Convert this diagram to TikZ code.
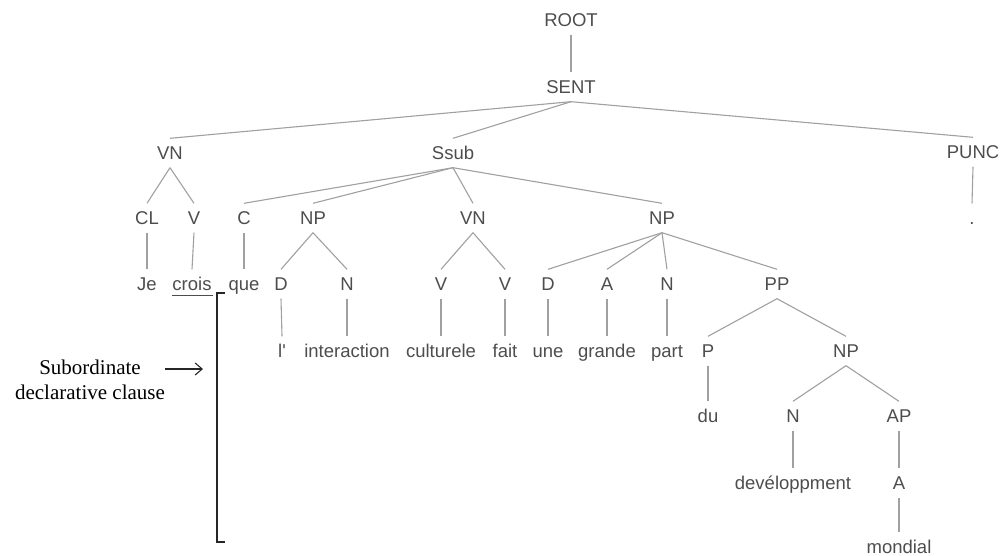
\documentclass[tikz,border=0pt]{standalone}
\usepackage{fontspec}
\usepackage{xcolor}
\usetikzlibrary{arrows.meta}
\newfontfamily\treefont{Liberation Sans}
\newfontfamily\notefont{Liberation Serif}
\definecolor{treetext}{HTML}{4D4D4D}
\definecolor{treeline}{HTML}{A0A0A0}
\begin{document}
\begin{tikzpicture}[x=1pt, y=-1pt,
  lbl/.style={font={\treefont\fontsize{18.5}{20}\selectfont}, text=treetext,
    text height=13pt, text depth=0pt, inner xsep=1pt, inner ysep=8pt},
  edge/.style={draw=treeline, line width=1.1pt},
  bracket/.style={draw=black!85, line width=1.3pt},
  arrow/.style={draw=black!85, line width=1.1pt, -{Straight Barb[length=7pt, width=12pt]}}]
  \useasboundingbox (0,0) rectangle (1003,556);
  % levels 0--2
  \node[lbl] (root) at (571,20) {ROOT};
  \node[lbl] (sent) at (571,87) {SENT};
  \node[lbl] (vn) at (170,153) {VN};
  \node[lbl] (ssub) at (453,153) {Ssub};
  \node[lbl] (punc) at (973,152) {PUNC};
  % level 3
  \node[lbl] (cl) at (147,218) {CL};
  \node[lbl] (v) at (194,218) {V};
  \node[lbl] (c) at (244,218) {C};
  \node[lbl] (np) at (313,218) {NP};
  \node[lbl] (vnb) at (473,218) {VN};
  \node[lbl] (npb) at (662,218) {NP};
  \node[lbl] (dot) at (972,218) {.};
  % level 4
  \node[lbl] (je) at (147,284) {Je};
  \node[lbl] (crois) at (192,284) {crois};
  \node[lbl] (que) at (244,284) {que};
  \node[lbl] (d) at (281,284) {D};
  \node[lbl] (n) at (347,284) {N};
  \node[lbl] (va) at (441,284) {V};
  \node[lbl] (vb) at (505,284) {V};
  \node[lbl] (db) at (548,284) {D};
  \node[lbl] (a) at (607,284) {A};
  \node[lbl] (nb) at (667,284) {N};
  \node[lbl] (pp) at (777,284) {PP};
  % level 5
  \node[lbl] (art) at (282,351) {l'};
  \node[lbl] (interaction) at (347,351) {interaction};
  \node[lbl] (culturele) at (441,351) {culturele};
  \node[lbl] (fait) at (505,351) {fait};
  \node[lbl] (une) at (548,351) {une};
  \node[lbl] (grande) at (607,351) {grande};
  \node[lbl] (part) at (667,351) {part};
  \node[lbl] (p) at (708,351) {P};
  \node[lbl] (npc) at (846,351) {NP};
  % levels 6--8
  \node[lbl] (du) at (708,416) {du};
  \node[lbl] (nc) at (793,416) {N};
  \node[lbl] (ap) at (899,416) {AP};
  \node[lbl] (dev) at (793,483) {devéloppment};
  \node[lbl] (ab) at (899,483) {A};
  \node[lbl] (mondial) at (899,547) {mondial};
  % branches
  \foreach \a/\b in {root/sent, sent/vn, sent/ssub, sent/punc,
      vn/cl, vn/v, ssub/c, ssub/np, ssub/vnb, ssub/npb, punc/dot,
      cl/je, v/crois, c/que, np/d, np/n, vnb/va, vnb/vb,
      npb/db, npb/a, npb/nb, npb/pp,
      d/art, n/interaction, va/culturele, vb/fait, db/une, a/grande, nb/part,
      pp/p, pp/npc, p/du, npc/nc, npc/ap, nc/dev, ap/ab, ab/mondial}
    \draw[edge] (\a.south) -- (\b.north);
  % annotation
  \draw[draw=treetext, line width=1pt] (172,295) -- (213,295);
  \node[font={\notefont\fontsize{21}{25}\selectfont}, align=center, inner sep=0pt] (note) at (90,380) {Subordinate\\declarative clause};
  \coordinate (tip) at (203,369);
  \coordinate (brtop) at (225,293);
  \coordinate (brbot) at (225,542);
  \draw[arrow] (note.east |- tip) -- (tip);
  \draw[bracket] (brtop) -- ++(-8,0) |- (brbot);
\end{tikzpicture}
\end{document}
